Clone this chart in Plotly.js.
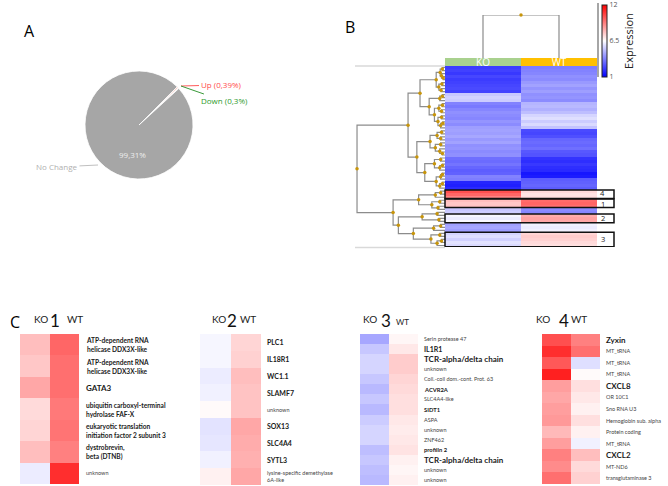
<!DOCTYPE html>
<html>
<head>
<meta charset="utf-8">
<script src="https://cdn.plot.ly/plotly-3.0.1.min.js"></script>
<style>
  html, body { margin: 0; padding: 0; background: #fff; }
  #fig { width: 668px; height: 486px; }
</style>
</head>
<body>
<div id="fig"></div>
<script>
// ---- panel A : pie
let pie_labels = ['Up', 'Down', 'No Change'];
let pie_values = [0.39, 0.30, 99.31];
let pie_colors = ['#f4b0a6', '#f2f2f2', '#a6a6a6'];

// ---- panel B : main heatmap (KO, WT), one value per row
let b_ko = [2.3, 2.4, 2.2, 2.5, 2.3, 2.4, 2.5, 2.6, 2.4, 5.3,
            5.5, 5.4, 3.8, 3.6, 3.9, 4.1, 4.0, 3.9, 4.2, 4.0,
            4.4, 4.5, 4.4, 4.6, 4.3, 4.5, 4.1, 4.2, 4.0, 4.1,
            3.4, 3.3, 3.5, 3.2, 3.0, 3.1, 3.8, 3.7, 1.8, 1.7,
            1.9, 10.3, 9.8, 9.2, 7.9, 7.7, 7.8, 5.3, 5.4, 6.3,
            6.1, 6.4, 4.5, 4.6, 4.4, 5.6, 5.8, 5.5, 5.9, 5.7];
let b_wt = [3.7, 3.8, 3.9, 4.1, 4.0, 4.3, 4.5, 4.2, 4.4, 4.1,
            4.2, 4.0, 4.9, 5.0, 4.8, 5.1, 5.6, 5.8, 5.4, 5.7,
            5.2, 2.6, 2.5, 2.7, 3.2, 3.3, 3.2, 3.4, 2.9, 2.8,
            2.1, 2.0, 2.2, 2.0, 1.9, 1.5, 1.6, 3.0, 3.1, 3.2,
            3.0, 7.3, 7.1, 7.2, 9.7, 9.8, 9.6, 4.0, 3.9, 8.3,
            8.5, 8.4, 6.2, 6.1, 6.2, 7.4, 7.6, 7.5, 7.3, 7.2];
let b_columns = ['KO', 'WT'];
let b_boxes = [
  { num: '4', first: 41, last: 43 },
  { num: '1', first: 44, last: 46 },
  { num: '2', first: 49, last: 51 },
  { num: '3', first: 55, last: 59 }
];
// row clustering: [height, left, right], leaves are row numbers
let row_tree = [10,
  [4.2,
    [2.84,
      [1.0, [0.55, [0.3, 0, 1], [0.4, 2, [0.2, 3, 4]]], [0.7, [0.35, 5, 6], [0.45, 7, 8]]],
      [1.8, [0.6, [0.3, 9, 10], 11], [1.2, [0.7, [0.3, 12, 13], [0.4, 14, 15]], [0.8, [0.4, 16, 17], [0.5, [0.25, 18, 19], 20]]]]],
    [3.2,
      [1.7, [0.9, [0.4, 21, 22], [0.5, 23, 24]], [1.1, [0.5, 25, 26], [0.6, 27, [0.3, 28, 29]]]],
      [2.3, [1.2, [0.5, 30, 31], [0.6, [0.3, 32, 33], 34]], [1.0, [0.5, [0.3, 35, 36], 37], [0.6, [0.3, 38, 39], 40]]]]],
  [5.9,
    [3.0, [1.1, [0.5, 41, 42], 43], [1.5, [0.6, 44, 45], [0.8, 46, 47]]],
    [5.3,
      [2.6, [0.9, 48, 49], [0.7, 50, 51]],
      [3.6, [1.3, [0.5, 52, 53], 54], [1.6, [0.6, 55, 56], [0.9, [0.4, 57, 58], 59]]]]]];
let col_tree = [1, 0, 1];

// ---- panel C : the four boxed clusters
let c1_ko = [7.9, 7.7, 8.4, 7.3, 7.4, 7.9, 6.1];
let c1_wt = [9.8, 9.6, 9.6, 9.4, 9.5, 9.25, 11.0];
let c1_genes = ['ATP-dependent RNA<br>helicase DDX3X-like', 'ATP-dependent RNA<br>helicase DDX3X-like', 'GATA3',
  'ubiquitin carboxyl-terminal<br>hydrolase FAF-X', 'eukaryotic translation<br>initiation factor 2 subunit 3',
  'dystrobrevin,<br>beta (DTNB)', 'unknown'];
let c1_style = ['b', 'b', 'B', 'b', 'b', 'b', 'n'];

let c2_ko = [6.3, 6.3, 6.1, 6.2, 6.6, 5.9, 5.95, 6.2, 6.8];
let c2_wt = [7.4, 7.5, 7.9, 7.8, 7.8, 8.4, 8.3, 8.2, 8.4];
let c2_genes = ['PLC1', 'IL18R1', 'WC1.1', 'SLAMF7', 'unknown', 'SOX13', 'SLC4A4', 'SYTL3',
  'lysine-specific demethylase<br>6A-like'];
let c2_style = ['m', 'm', 'm', 'm', 'n', 'm', 'm', 'm', 'n'];

let c3_ko = [4.6, 5.3, 5.6, 5.6, 5.3, 5.0, 5.3, 5.0, 5.4, 5.6, 5.6, 5.1, 5.3, 5.1, 5.0];
let c3_wt = [6.7, 7.0, 7.6, 7.6, 7.4, 7.3, 7.2, 7.2, 7.0, 6.9, 7.0, 7.1, 6.8, 6.7, 6.8];
let c3_genes = ['Serin protease 47', 'IL1R1', 'TCR-alpha/delta chain', 'unknown', 'Coil.-coil dom.-cont. Prot. 63',
  'ACVR2A', 'SLC4A4-like', 'SIDT1', 'ASPA', 'unknown', 'ZNF462', 'profilin 2', 'TCR-alpha/delta chain',
  'unknown', 'unknown'];
let c3_style = ['n', 'm', 'B', 'n', 'n', 's', 'n', 's', 'n', 'n', 'n', 's', 'B', 'n', 'n'];

let c4_ko = [10.3, 11.0, 10.1, 11.3, 8.6, 8.4, 8.6, 8.7, 8.0, 8.6, 9.25, 9.0, 9.6];
let c4_wt = [9.25, 9.6, 5.8, 6.6, 7.2, 7.0, 6.8, 7.2, 6.8, 6.2, 7.9, 7.3, 7.5];
let c4_genes = ['Zyxin', 'MT_tRNA', 'MT_tRNA', 'MT_tRNA', 'CXCL8', 'OR 10C1', 'Sno RNA U3',
  'Hemoglobin sub. alpha', 'Protein coding', 'MT_tRNA', 'CXCL2', 'MT-ND6', 'transglutaminase 3'];
let c4_style = ['B', 'n', 'n', 'n', 'B', 'n', 'n', 'n', 'n', 'n', 'B', 'n', 'n'];


const W = 668, H = 486;
function px(x) { return x / W; }
function py(y) { return 1 - y / H; }

let echelle = [[0, '#0000ff'], [0.5, '#ffffff'], [1, '#ff0000']];
let police = 'Open Sans, sans-serif';
let police_c = 'Liberation Sans Narrow, Lato, sans-serif';

function dendro(tree) {
  let hs = [], ps = [], nh = [], np = [];
  function walk(node) {
    if (typeof node === 'number') return { pos: node, h: 0 };
    let h = node[0];
    let l = walk(node[1]);
    let r = walk(node[2]);
    hs.push(l.h, h, h, r.h, null);
    ps.push(l.pos, l.pos, r.pos, r.pos, null);
    let mid = (l.pos + r.pos) / 2;
    nh.push(h);
    np.push(mid);
    return { pos: mid, h: h };
  }
  walk(tree);
  return { hs, ps, nh, np };
}

let data = [];
let annotations = [];
let shapes = [];

// panel A
data.push({
  type: 'pie',
  labels: pie_labels,
  values: pie_values,
  marker: { colors: pie_colors, line: { color: '#ffffff', width: 0.8 } },
  sort: false,
  direction: 'clockwise',
  rotation: 45,
  textinfo: 'none',
  hoverinfo: 'label+percent',
  showlegend: false,
  domain: { x: [px(85), px(193)], y: [py(179), py(71)] }
});
annotations.push(
  { text: 'Up (0,39%)', xref: 'paper', yref: 'paper', x: px(181), y: py(86), ax: 40, ay: -1,
    showarrow: true, arrowhead: 0, arrowwidth: 1, arrowcolor: '#ff5b5b', font: { family: police, size: 8, color: '#ff4b4b' } },
  { text: 'Down (0,3%)', xref: 'paper', yref: 'paper', x: px(181), y: py(86), ax: 43, ay: 15,
    showarrow: true, arrowhead: 0, arrowwidth: 1, arrowcolor: '#3a9a3a', font: { family: police, size: 8, color: '#2e9a2e' } },
  { text: 'No Change', xref: 'paper', yref: 'paper', x: px(98), y: py(165), ax: -41, ay: 2,
    showarrow: true, arrowhead: 0, arrowwidth: 1, arrowcolor: '#c0c0c0', font: { family: police, size: 8, color: '#b0b0b0' } },
  { text: '99,31%', xref: 'paper', yref: 'paper', x: px(117), y: py(147), showarrow: false,
    font: { family: police, size: 8, color: '#eeeeee' } }
);

// panel B
let b_rows = b_ko.map((v, i) => i);
data.push({
  type: 'heatmap',
  x: [0, 1], y: b_rows,
  z: b_ko.map((v, i) => [v, b_wt[i]]),
  colorscale: echelle, zmin: 1, zmax: 12,
  xaxis: 'x', yaxis: 'y',
  hoverinfo: 'z',
  colorbar: {
    x: px(602), xanchor: 'left', xref: 'paper',
    y: py(5), yanchor: 'top', yref: 'paper',
    len: 72, lenmode: 'pixels', thickness: 5, xpad: 0, ypad: 0,
    outlinewidth: 1, outlinecolor: '#222',
    tickvals: [1, 6.5, 12], ticktext: ['1', '6.5', '12'], ticks: '',
    tickfont: { family: police, size: 7, color: '#555' },
    title: { text: 'Expression', side: 'right', font: { family: police, size: 11, color: '#222' } }
  }
});
data.push({
  type: 'heatmap',
  x: [0, 1], y: [0],
  z: [[0, 1]],
  text: [b_columns],
  texttemplate: '%{text}',
  textfont: { family: police, size: 10, color: '#ffffff' },
  colorscale: [[0, '#a9d18e'], [1, '#ffc000']],
  showscale: false,
  xaxis: 'x', yaxis: 'y4',
  hoverinfo: 'skip'
});

let rd = dendro(row_tree);
data.push({
  type: 'scatter', mode: 'lines', x: rd.hs, y: rd.ps, xaxis: 'x2', yaxis: 'y',
  line: { color: '#8c8c8c', width: 1.2 }, hoverinfo: 'skip', showlegend: false, cliponaxis: false
});
data.push({
  type: 'scatter', mode: 'markers', x: rd.nh, y: rd.np, xaxis: 'x2', yaxis: 'y',
  marker: { color: '#c8950a', size: 3.5 }, hoverinfo: 'skip', showlegend: false, cliponaxis: false
});
let cd = dendro(col_tree);
data.push({
  type: 'scatter', mode: 'lines', x: cd.ps, y: cd.hs, xaxis: 'x', yaxis: 'y3',
  line: { color: '#8c8c8c', width: 1.2 }, hoverinfo: 'skip', showlegend: false, cliponaxis: false
});
data.push({
  type: 'scatter', mode: 'markers', x: cd.np, y: cd.nh, xaxis: 'x', yaxis: 'y3',
  marker: { color: '#c8950a', size: 3.5 }, hoverinfo: 'skip', showlegend: false, cliponaxis: false
});

b_boxes.forEach(b => {
  shapes.push({
    type: 'rect', xref: 'paper', yref: 'y', x0: px(445), x1: px(614),
    y0: b.first - 0.42, y1: b.last + 0.42, line: { color: '#111', width: 1.5 }
  });
  annotations.push({
    text: b.num, xref: 'paper', yref: 'y', x: px(606), y: (b.first + b.last) / 2,
    yshift: b.num === '4' ? 1 : (b.num === '1' ? -1 : 0),
    showarrow: false, borderpad: 0, font: { family: police, size: 7.5, color: '#222' }
  });
});
shapes.push(
  { type: 'line', xref: 'paper', yref: 'paper', x0: px(355), x1: px(445), y0: py(66), y1: py(66), line: { color: '#d9d9d9', width: 1.5 } },
  { type: 'line', xref: 'paper', yref: 'paper', x0: px(355), x1: px(445), y0: py(247.5), y1: py(247.5), line: { color: '#d9d9d9', width: 1.5 } },
  { type: 'line', xref: 'paper', yref: 'paper', x0: px(598), x1: px(598), y0: py(3), y1: py(77), line: { color: '#a6a6a6', width: 2 } }
);

// panel C
let styles = {
  B: { size: 8, bold: true },
  m: { size: 7, bold: true },
  b: { size: 6.6, bold: true },
  s: { size: 5.8, bold: true },
  n: { size: 5.5, bold: false }
};
let panneaux = [
  { ko: c1_ko, wt: c1_wt, genes: c1_genes, style: c1_style, n: 1, ax: '5', x0: 20, x1: 79, y0: 334, y1: 484, lab: 84, hko: 33, hnum: 49, hwt: 66 },
  { ko: c2_ko, wt: c2_wt, genes: c2_genes, style: c2_style, n: 2, ax: '6', x0: 200, x1: 261, y0: 334, y1: 485, lab: 265, hko: 211, hnum: 232, hwt: 248 },
  { ko: c3_ko, wt: c3_wt, genes: c3_genes, style: c3_style, n: 3, ax: '7', x0: 360, x1: 418, y0: 334, y1: 485, lab: 422, hko: 370, hnum: 386, hwt: 402 },
  { ko: c4_ko, wt: c4_wt, genes: c4_genes, style: c4_style, n: 4, ax: '8', x0: 542, x1: 600, y0: 334, y1: 484, lab: 604, hko: 551, hnum: 570, hwt: 588 }
];

let layout = {
  width: W, height: H,
  margin: { l: 0, r: 0, t: 0, b: 0 },
  paper_bgcolor: '#ffffff', plot_bgcolor: 'rgba(0,0,0,0)',
  showlegend: false,
  xaxis: { domain: [px(445), px(597)], range: [-0.5, 1.5], anchor: 'y', visible: false, fixedrange: true },
  yaxis: { domain: [py(247), py(66)], range: [b_ko.length - 0.5, -0.5], anchor: 'x', visible: false, fixedrange: true },
  xaxis2: { domain: [px(355), px(445)], range: [10.23, 0], anchor: 'y', visible: false, fixedrange: true },
  yaxis3: { domain: [py(58), py(15)], range: [0, 1], anchor: 'x', visible: false, fixedrange: true },
  yaxis4: { domain: [py(66), py(58)], range: [-0.5, 0.5], anchor: 'x', visible: false, fixedrange: true }
};

panneaux.forEach(p => {
  let rows = p.ko.map((v, i) => i);
  data.push({
    type: 'heatmap',
    x: [0, 1], y: rows,
    z: p.ko.map((v, i) => [v, p.wt[i]]),
    colorscale: echelle, zmin: 1, zmax: 12, showscale: false,
    xaxis: 'x' + p.ax, yaxis: 'y' + p.ax,
    hoverinfo: 'z'
  });
  layout['xaxis' + p.ax] = { domain: [px(p.x0), px(p.x1)], range: [-0.5, 1.5], anchor: 'y' + p.ax, visible: false, fixedrange: true };
  layout['yaxis' + p.ax] = { domain: [py(p.y1), py(p.y0)], range: [p.ko.length - 0.5, -0.5], anchor: 'x' + p.ax, visible: false, fixedrange: true };
  p.genes.forEach((g, i) => {
    let s = styles[p.style[i]];
    annotations.push({
      text: s.bold ? '<b>' + g + '</b>' : g,
      xref: 'paper', yref: 'y' + p.ax, x: px(p.lab), y: i,
      xanchor: 'left', align: 'left', showarrow: false,
      font: { family: police_c, size: s.size, color: s.bold ? '#1a1a1a' : '#444' }
    });
  });
  annotations.push(
    { text: 'KO', xref: 'paper', yref: 'paper', x: px(p.hko), y: py(326), showarrow: false, borderpad: 0,
      font: { family: police_c, size: 10, color: '#222' } },
    { text: String(p.n), xref: 'paper', yref: 'paper', x: px(p.hnum), y: py(320), showarrow: false, borderpad: 0,
      font: { family: police_c, size: 17, color: '#111' } },
    { text: 'WT', xref: 'paper', yref: 'paper', x: px(p.hwt), y: py(p.n === 3 ? 328 : 326), showarrow: false, borderpad: 0,
      font: { family: police_c, size: p.n === 3 ? 8 : 10, color: '#222' } }
  );
});

// panel letters
[['A', 22, 18], ['B', 350, 14], ['C', 8, 322]].forEach(l => {
  annotations.push({ text: l[0], xref: 'paper', yref: 'paper', x: px(l[1]), y: py(l[2]), showarrow: false,
    font: { family: police, size: 16, color: '#000' } });
});

layout.annotations = annotations;
layout.shapes = shapes;

Plotly.newPlot('fig', data, layout, { displayModeBar: false, staticPlot: true });
</script>
</body>
</html>
